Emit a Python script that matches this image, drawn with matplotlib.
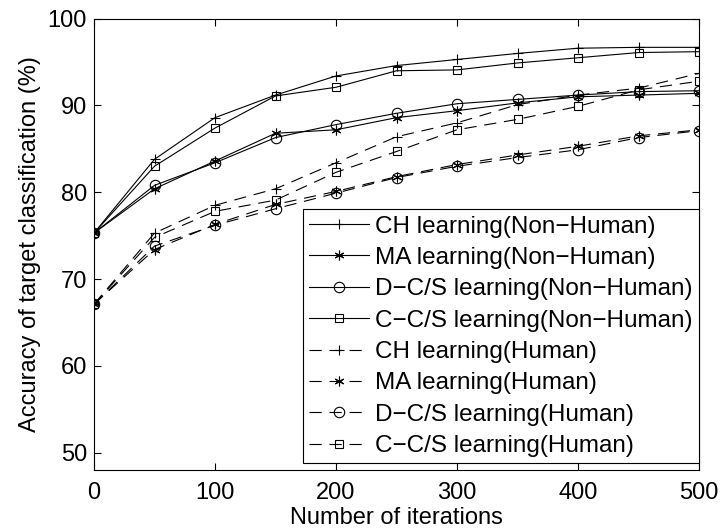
import matplotlib
matplotlib.use("Agg")
import matplotlib.pyplot as plt

plt.rcParams['font.family'] = ['Liberation Sans', 'DejaVu Sans']

iterations = [0, 50, 100, 150, 200, 250, 300, 350, 400, 450, 500]

# Non-Human
ch_non = [75.3, 83.8, 88.6, 91.2, 93.4, 94.6, 95.3, 96.0, 96.6, 96.7, 96.7]
ma_non = [75.3, 80.4, 83.6, 86.8, 87.2, 88.6, 89.4, 90.3, 91.0, 91.2, 91.4]
dcs_non = [75.3, 80.8, 83.4, 86.3, 87.8, 89.1, 90.2, 90.7, 91.2, 91.6, 91.7]
ccs_non = [75.3, 83.0, 87.4, 91.1, 92.1, 94.0, 94.1, 94.9, 95.5, 96.1, 96.2]

# Human
ch_hum = [67.1, 75.3, 78.5, 80.4, 83.4, 86.4, 88.0, 90.1, 91.2, 92.0, 93.7]
ma_hum = [67.1, 73.4, 76.3, 78.6, 80.1, 81.8, 83.2, 84.3, 85.3, 86.5, 87.2]
dcs_hum = [67.1, 73.8, 76.2, 78.1, 79.9, 81.7, 83.0, 84.0, 84.9, 86.3, 87.1]
ccs_hum = [67.1, 74.8, 77.8, 79.1, 82.3, 84.7, 87.2, 88.4, 89.9, 91.8, 92.8]

labels = ["CH learning(Non\u2212Human)", "MA learning(Non\u2212Human)",
          "D\u2212C/S learning(Non\u2212Human)", "C\u2212C/S learning(Non\u2212Human)",
          "CH learning(Human)", "MA learning(Human)",
          "D\u2212C/S learning(Human)", "C\u2212C/S learning(Human)"]

asterisk = (6, 2, 0)
markers = ['+', asterisk, 'o', 's']
msizes = [7, 7, 7.5, 5.5]

fig = plt.figure(figsize=(7.2, 5.29), dpi=100)
ax = fig.add_axes([94 / 720, 1 - 470 / 529, 605 / 720, (470 - 18.7) / 529])

series = [ch_non, ma_non, dcs_non, ccs_non, ch_hum, ma_hum, dcs_hum, ccs_hum]
for i, (ys, lab) in enumerate(zip(series, labels)):
    ls = '-' if i < 4 else (0, (11, 7))
    ax.plot(iterations, ys, color='black', lw=0.8, linestyle=ls, marker=markers[i % 4],
            markersize=msizes[i % 4], markerfacecolor='none',
            markeredgecolor='black', markeredgewidth=0.8, label=lab)

ax.set_xlim(0, 500)
ax.set_ylim(48, 100)
ax.set_xticks([0, 100, 200, 300, 400, 500])
ax.set_yticks([50, 60, 70, 80, 90, 100])
ax.tick_params(direction='in', top=True, right=True, labelsize=17, length=5, width=0.8)
ax.tick_params(axis='x', pad=8.5)
ax.tick_params(axis='y', pad=5)
for s in ax.spines.values():
    s.set_linewidth(0.8)
ax.set_xlabel("Number of iterations", fontsize=17, labelpad=2)
ax.set_ylabel("Accuracy of target classification (%)", fontsize=17, labelpad=5)

leg = ax.legend(loc='lower right', bbox_to_anchor=(1.0, 0.015), fontsize=17.5,
                frameon=True, fancybox=False, edgecolor='black', framealpha=1,
                handlelength=2.5, handletextpad=0.25, labelspacing=0.385,
                borderpad=0.25, borderaxespad=0)
leg.get_frame().set_linewidth(0.8)

fig.savefig("out.png", dpi=100)
